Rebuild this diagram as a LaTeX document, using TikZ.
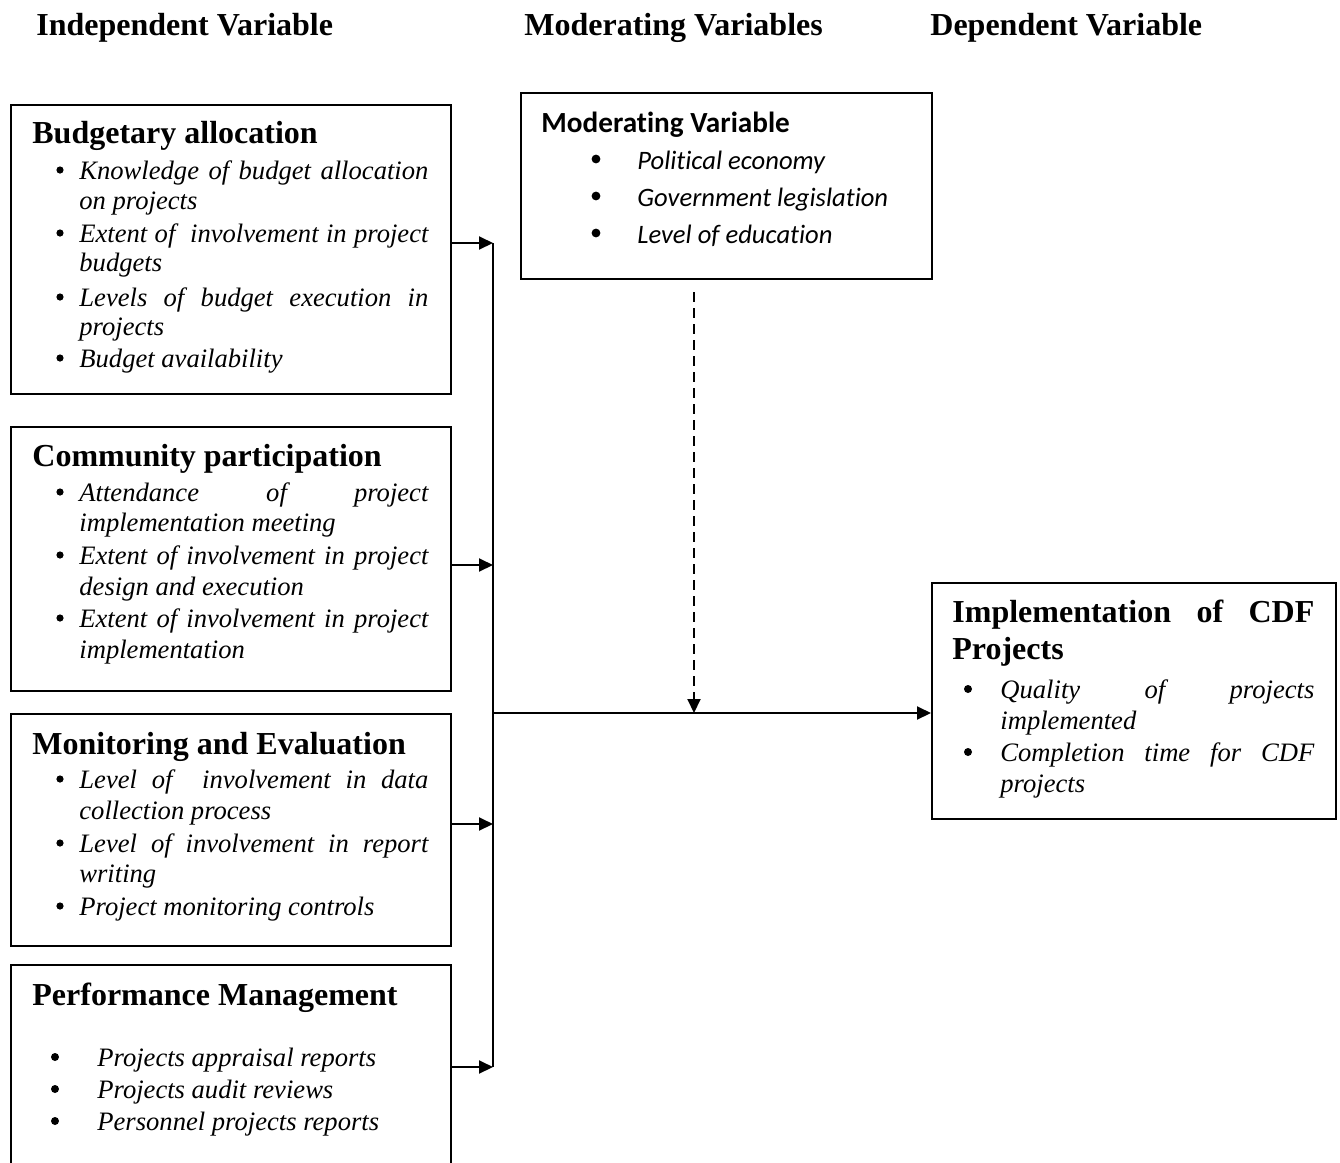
\documentclass[tikz,border=0pt]{standalone}
\usepackage{fontspec}
\setmainfont{Liberation Serif}
\newfontfamily\calfont[Ligatures=NoCommon]{Carlito}
\usetikzlibrary{arrows.meta}
\tikzset{
  box/.style={draw, line width=1pt, anchor=north west, inner sep=0pt},
  ttl/.style={anchor=west, inner sep=0pt, font=\fontsize{16}{18}\selectfont\bfseries, text height=11pt, text depth=1pt},
  itm/.style={anchor=west, inner sep=0pt, font=\fontsize{13.3}{15}\selectfont\itshape, text height=10pt, text depth=1pt},
  mttl/.style={anchor=west, inner sep=0pt, font=\fontsize{14.6}{17}\selectfont\calfont\bfseries, text height=11pt, text depth=0.5pt},
  mitm/.style={anchor=west, inner sep=0pt, font=\fontsize{13.3}{16}\selectfont\calfont\itshape, text height=10.5pt, text depth=0.5pt},
  hdr/.style={anchor=west, inner sep=0pt, font=\fontsize{16}{18}\selectfont\bfseries, text height=12pt, text depth=1pt},
  arr/.style={line width=1pt, -{Triangle[length=7pt, width=6.5pt]}},
  bus/.style={line width=1pt},
}
\newcommand\jst[2]{\makebox[#1][s]{#2}}
\begin{document}
\begin{tikzpicture}[x=0.5pt, y=-0.5pt]
\useasboundingbox (0,0) rectangle (1340,1163);
% headers
\node[hdr] (h1) at (36,24) {Independent Variable};
\node[hdr] (h2) at (524,24) {Moderating Variables};
\node[hdr] (h3) at (930,24) {Dependent Variable};

% Box 1
\node[box, minimum width=220pt, minimum height=144.5pt] (b1) at (10,104) {};
\node[ttl] (t1) at (32,133) {Budgetary allocation};
\foreach \yy in {170,233,297,358} \fill (60,\yy) circle (1.8pt);
\node[itm] (b1l1) at (79,170) {\jst{174.5pt}{Knowledge of budget allocation}};
\node[itm] (b1l2) at (79,200) {on projects};
\node[itm] (b1l3) at (79,233) {\jst{174.5pt}{Extent of\ \ involvement in project}};
\node[itm] (b1l4) at (79,262) {budgets};
\node[itm] (b1l5) at (79,297) {\jst{174.5pt}{Levels of budget execution in}};
\node[itm] (b1l6) at (79,326) {projects};
\node[itm] (b1l7) at (79,358) {Budget availability};

% Box 2
\node[box, minimum width=220pt, minimum height=132pt] (b2) at (10,426) {};
\node[ttl] (t2) at (32,456) {Community participation};
\foreach \yy in {492,555,618} \fill (60,\yy) circle (1.8pt);
\node[itm] (b2l1) at (79,492) {\jst{174.5pt}{Attendance of project}};
\node[itm] (b2l2) at (79,522) {implementation meeting};
\node[itm] (b2l3) at (79,555) {\jst{174.5pt}{Extent of involvement in project}};
\node[itm] (b2l4) at (79,586) {design and execution};
\node[itm] (b2l5) at (79,618) {\jst{174.5pt}{Extent of involvement in project}};
\node[itm] (b2l6) at (79,649) {implementation};

% Box 3
\node[box, minimum width=220pt, minimum height=116pt] (b3) at (10,713) {};
\node[ttl] (t3) at (32,744) {Monitoring and Evaluation};
\foreach \yy in {779,843,906} \fill (60,\yy) circle (1.8pt);
\node[itm] (b3l1) at (79,779) {\jst{174.5pt}{Level of\ \ involvement in data}};
\node[itm] (b3l2) at (79,810) {collection process};
\node[itm] (b3l3) at (79,843) {\jst{174.5pt}{Level of involvement in report}};
\node[itm] (b3l4) at (79,873) {writing};
\node[itm] (b3l5) at (79,906) {Project monitoring controls};

% Box 4 (continues below the picture)
\node[box, minimum width=220pt, minimum height=120pt] (b4) at (10,964) {};
\node[ttl] (t4) at (32,995) {Performance Management};
\foreach \yy in {1057,1089,1121} \fill (55,\yy) circle (2pt);
\node[itm] (b4l1) at (97,1057) {Projects appraisal reports};
\node[itm] (b4l2) at (97,1089) {Projects audit reviews};
\node[itm] (b4l3) at (97,1121) {Personnel projects reports};

% Moderating box
\node[box, minimum width=205.5pt, minimum height=93pt] (mod) at (520,92) {};
\node[mttl] (mt) at (541,122) {Moderating Variable};
\foreach \yy in {159,196,233} \fill (596,\yy) circle (2.2pt);
\node[mitm] (m1) at (637,159) {Political economy};
\node[mitm] (m2) at (637,196) {Government legislation};
\node[mitm] (m3) at (637,233) {Level of education};

% Dependent box
\node[box, minimum width=202pt, minimum height=118pt] (dep) at (931,582) {};
\node[ttl] (dt1) at (952,612) {\jst{181pt}{Implementation of CDF}};
\node[ttl] (dt2) at (952,649) {Projects};
\foreach \yy in {689,752} \fill (968,\yy) circle (2pt);
\node[itm] (d1) at (1000,689) {\jst{157pt}{Quality of projects}};
\node[itm] (d2) at (1000,720) {implemented};
\node[itm] (d3) at (1000,752) {\jst{157pt}{Completion time for CDF}};
\node[itm] (d4) at (1000,783) {projects};

% connectors
\coordinate (j1) at (493,243);
\coordinate (j2) at (493,565);
\coordinate (j3) at (493,824);
\coordinate (j4) at (493,1067);
\coordinate (jm) at (493,713);
\coordinate (jd) at (694,713);
\draw[arr] (b1.east |- j1) -- (j1);
\draw[arr] (b2.east |- j2) -- (j2);
\draw[arr] (b3.east |- j3) -- (j3);
\draw[arr] (b4.east |- j4) -- (j4);
\draw[bus] (j1) -- (j4);
\draw[arr] (jm) -- (dep.west |- jm);
\draw[arr, dash pattern=on 5pt off 3pt, shorten <=6pt] (mod.south -| jd) -- (jd);
\end{tikzpicture}
\end{document}
